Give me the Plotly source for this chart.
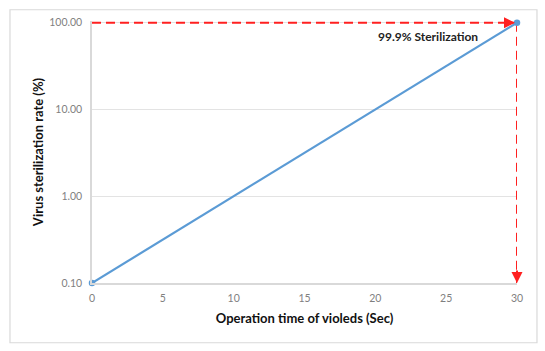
import plotly.graph_objects as go
import math

time_sec = [0, 30]
sterilization_rate = [0.1, 100]

guide_h_x = [0, 30]
guide_h_y = [100, 100]
guide_v_x = [30, 30]
guide_v_y = [100, 0.1]

y_tickvals = [0.1, 1, 10, 100]
y_ticktext = ["0.10", "1.00", "10.00", "100.00"]
x_tickvals = [0, 5, 10, 15, 20, 25, 30]

annot_text = "99.9% Sterilization"

FONT = "Lato, Open Sans, sans-serif"
RED = "#ff2020"

fig = go.Figure()
fig.add_trace(go.Scatter(x=guide_h_x, y=guide_h_y, mode="lines",
                         line=dict(color=RED, width=2, dash="9px,5px"),
                         cliponaxis=False, hoverinfo="skip"))
fig.add_trace(go.Scatter(x=guide_v_x, y=guide_v_y, mode="lines",
                         line=dict(color=RED, width=2, dash="9px,5px"),
                         cliponaxis=False, hoverinfo="skip"))
fig.add_trace(go.Scatter(x=time_sec, y=sterilization_rate, mode="lines+markers",
                         line=dict(color="#5b9bd5", width=2.2),
                         marker=dict(color="#5b9bd5", size=6.5),
                         cliponaxis=False))

# arrowheads
fig.add_annotation(x=guide_h_x[1], y=math.log10(guide_h_y[1]), ax=-14, ay=0,
                   xref="x", yref="y", showarrow=True, arrowhead=2, arrowsize=1.1,
                   arrowwidth=2, arrowcolor=RED, text="", standoff=2)
fig.add_annotation(x=guide_v_x[1], y=math.log10(guide_v_y[1]), ax=0, ay=-14,
                   xref="x", yref="y", showarrow=True, arrowhead=2, arrowsize=1.1,
                   arrowwidth=2, arrowcolor=RED, text="", standoff=0)
fig.add_annotation(x=23.7, y=math.log10(100), yshift=-14, xref="x", yref="y",
                   text="<b>" + annot_text + "</b>", showarrow=False,
                   font=dict(family=FONT, size=12, color="#222222"))

# outer border
fig.add_shape(type="rect", xref="paper", yref="paper",
              x0=-0.193, x1=1.047, y0=-0.228, y1=1.043,
              line=dict(color="#d9d9d9", width=1.2), layer="below")

fig.update_layout(
    width=545, height=351,
    margin=dict(l=92, r=28, t=21, b=68),
    paper_bgcolor="white", plot_bgcolor="white",
    showlegend=False,
    font=dict(family=FONT),
    xaxis=dict(range=[0, 30], tickvals=x_tickvals, showgrid=False,
               showline=True, linecolor="#d9d9d9", linewidth=1.5,
               zeroline=False, ticks="outside", ticklen=5,
               tickcolor="rgba(0,0,0,0)",
               tickfont=dict(size=10.5, color="#7f7f7f"),
               title=dict(text="<b>Operation time of violeds (Sec)</b>",
                          font=dict(size=13, color="#111111"), standoff=11)),
    yaxis=dict(type="log", range=[-1, 2.02], tickvals=y_tickvals, ticktext=y_ticktext,
               showgrid=True, gridcolor="#e3e3e3", gridwidth=1.2,
               showline=True, linecolor="#d9d9d9", linewidth=1.5,
               zeroline=False, ticks="outside", ticklen=6,
               tickcolor="rgba(0,0,0,0)",
               tickfont=dict(size=10.5, color="#7f7f7f"),
               title=dict(text="<b>Virus sterilization rate (%)</b>",
                          font=dict(size=13, color="#111111"), standoff=3)),
)

fig.write_html("out.html")
